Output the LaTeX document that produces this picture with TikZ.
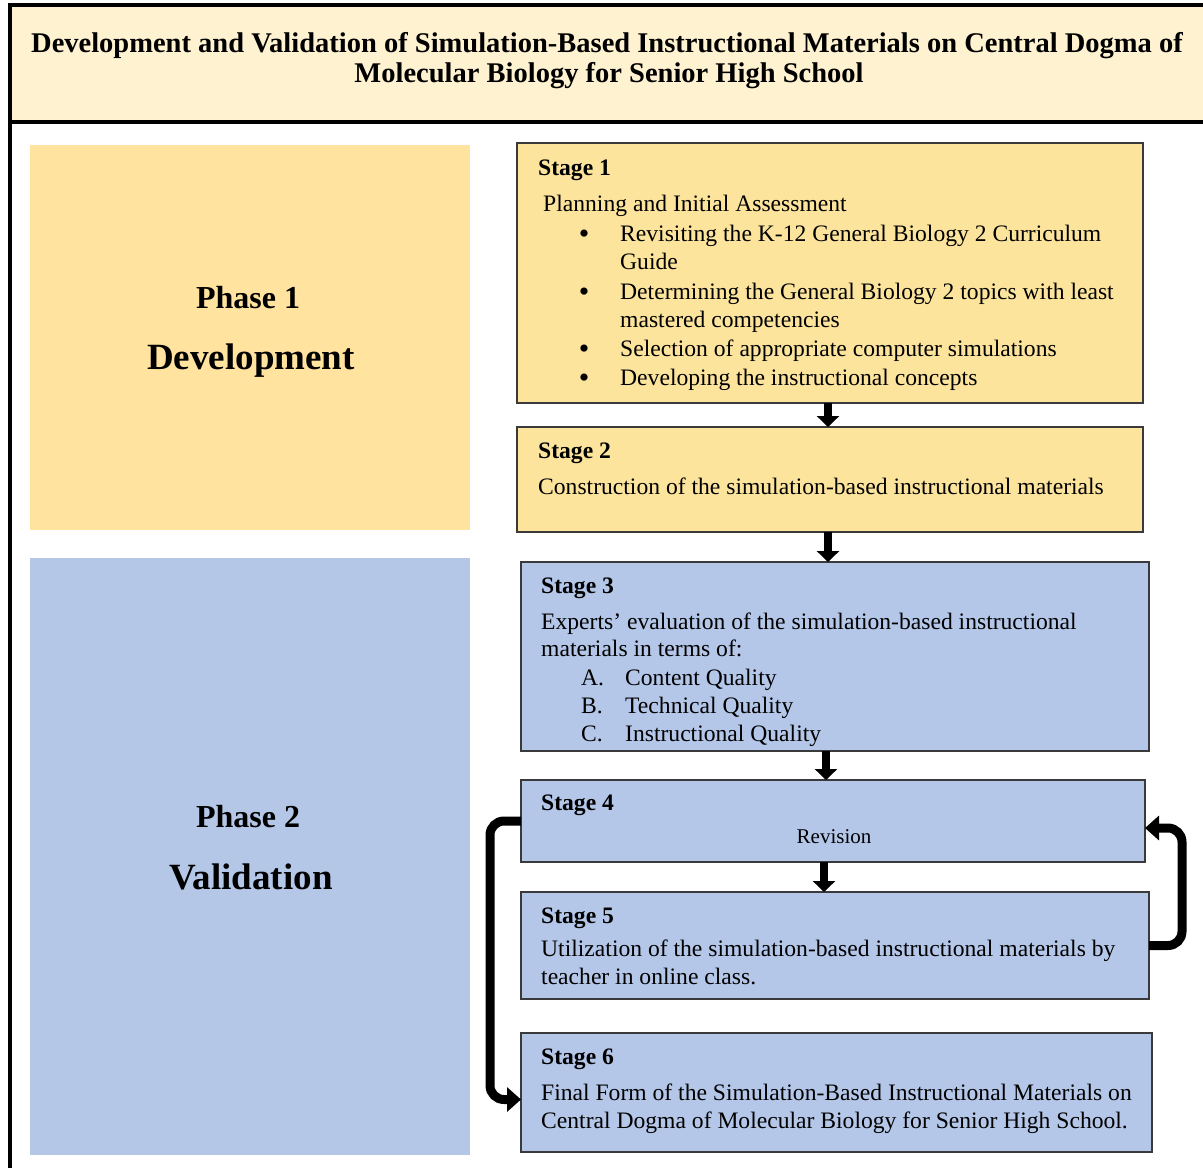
\documentclass[tikz,border=0pt]{standalone}
\usepackage{fontspec}
\setmainfont{Liberation Serif}
\usetikzlibrary{arrows.meta}
\definecolor{titlefill}{HTML}{FEF2D0}
\definecolor{phaseyel}{HTML}{FFE39E}
\definecolor{stageyel}{HTML}{FCE49D}
\definecolor{phaseblu}{HTML}{B4C7E7}
\definecolor{stageblu}{HTML}{B4C7E9}
\definecolor{boxline}{HTML}{3A3A3A}
\begin{document}
\begin{tikzpicture}[x=1pt,y=-1pt,
  phasebox/.style={draw=none,anchor=north west,inner sep=0,outer sep=0},
  stagebox/.style={draw=boxline,line width=1.8pt,anchor=north west,inner sep=0,outer sep=0},
  txt/.style={anchor=base west,inner sep=0,font=\fontsize{23.6}{28}\selectfont},
  txtb/.style={txt,font=\fontsize{23.6}{28}\selectfont\bfseries},
  bul/.style={anchor=base,inner sep=0,font=\fontsize{30}{30}\selectfont},
  phasetxt/.style={anchor=base,inner sep=0,font=\fontsize{32}{36}\selectfont\bfseries},
  phasebig/.style={anchor=base,inner sep=0,font=\fontsize{37}{42}\selectfont\bfseries},
  titletxt/.style={anchor=base,inner sep=0,font=\fontsize{28.5}{32}\selectfont\bfseries},
  downarrow/.style={line width=8pt,-{Triangle[width=22pt,length=11pt]}},
  looparrow/.style={line width=9pt,rounded corners=14pt,-{Triangle[width=24pt,length=14pt]}}]
\useasboundingbox (0,0) rectangle (1203,1168);
% outer frame and title
\fill[titlefill] (10,5) rectangle (1203,122);
\draw[line width=4pt] (1203,5) -- (10,5) -- (10,1168);
\draw[line width=4.5pt] (10,122) -- (1203,122);
\node[titletxt] (t1) at (607,52) {Development and Validation of Simulation-Based Instructional Materials on Central Dogma of};
\node[titletxt] (t2) at (609,82) {Molecular Biology for Senior High School};
% phases
\node[phasebox,fill=phaseyel,minimum width=440,minimum height=385] (p1) at (30,145) {};
\node[phasebox,fill=phaseblu,minimum width=440,minimum height=597] (p2) at (30,558) {};
\node[phasetxt] (p1a) at (248,308) {Phase 1};
\node[phasebig] (p1b) at (251,369) {Development};
\node[phasetxt] (p2a) at (248,827) {Phase 2};
\node[phasebig] (p2b) at (251,889) {Validation};
% stages
\node[stagebox,fill=stageyel,minimum width=626,minimum height=260] (s1) at (517,143) {};
\node[stagebox,fill=stageyel,minimum width=626,minimum height=105] (s2) at (517,427) {};
\node[stagebox,fill=stageblu,minimum width=628,minimum height=189] (s3) at (521,562) {};
\node[stagebox,fill=stageblu,minimum width=624,minimum height=82] (s4) at (521,780) {};
\node[stagebox,fill=stageblu,minimum width=628,minimum height=107] (s5) at (521,892) {};
\node[stagebox,fill=stageblu,minimum width=631,minimum height=119] (s6) at (521,1033) {};
% stage 1 text
\node[txtb] (s1h) at (538,175) {Stage 1};
\node[txt] (s1l0) at (543,211) {Planning and Initial Assessment};
\node[bul] (s1b1) at (584,243) {•};
\node[txt] (s1l1) at (620,241) {Revisiting the K-12 General Biology 2 Curriculum};
\node[txt] (s1l1b) at (620,269) {Guide};
\node[bul] (s1b2) at (584,301) {•};
\node[txt] (s1l2) at (620,299) {Determining the General Biology 2 topics with least};
\node[txt] (s1l2b) at (620,327) {mastered competencies};
\node[bul] (s1b3) at (584,358) {•};
\node[txt] (s1l3) at (620,356) {Selection of appropriate computer simulations};
\node[bul] (s1b4) at (584,387) {•};
\node[txt] (s1l4) at (620,385) {Developing the instructional concepts};
% stage 2 text
\node[txtb] (s2h) at (538,458) {Stage 2};
\node[txt] (s2l) at (538,494) {Construction of the simulation-based instructional materials};
% stage 3 text
\node[txtb] (s3h) at (541,593) {Stage 3};
\node[txt] (s3l1) at (541,629) {Experts' evaluation of the simulation-based instructional};
\node[txt] (s3l2) at (541,656) {materials in terms of:};
\node[txt] (s3a) at (581,685) {A.};
\node[txt] (s3at) at (625,685) {Content Quality};
\node[txt] (s3b) at (581,713) {B.};
\node[txt] (s3bt) at (625,713) {Technical Quality};
\node[txt] (s3c) at (581,741) {C.};
\node[txt] (s3ct) at (625,741) {Instructional Quality};
% stage 4 text
\node[txtb] (s4h) at (541,810) {Stage 4};
\node[anchor=base,inner sep=0,font=\fontsize{21}{25}\selectfont] (s4l) at (834,843) {Revision};
% stage 5 text
\node[txtb] (s5h) at (541,923) {Stage 5};
\node[txt] (s5l1) at (541,956) {Utilization of the simulation-based instructional materials by};
\node[txt] (s5l2) at (541,984) {teacher in online class.};
% stage 6 text
\node[txtb] (s6h) at (541,1064) {Stage 6};
\node[txt] (s6l1) at (541,1100) {Final Form of the Simulation-Based Instructional Materials on};
\node[txt] (s6l2) at (541,1128) {Central Dogma of Molecular Biology for Senior High School.};
% arrows
\coordinate (ax1) at (828,0);
\coordinate (ax2) at (826,0);
\coordinate (ax3) at (824,0);
\draw[downarrow] (s1.south -| ax1) -- (s2.north -| ax1);
\draw[downarrow] (s2.south -| ax1) -- (s3.north -| ax1);
\draw[downarrow] (s3.south -| ax2) -- (s4.north -| ax2);
\draw[downarrow] (s4.south -| ax3) -- (s5.north -| ax3);
\draw[looparrow] (s4.west) -- ++(-31,0) |- ([yshift=-7pt]s6.west);
\draw[looparrow] (s5.east) -- ++(33,0) |- ([yshift=-7pt]s4.east);
\end{tikzpicture}
\end{document}
